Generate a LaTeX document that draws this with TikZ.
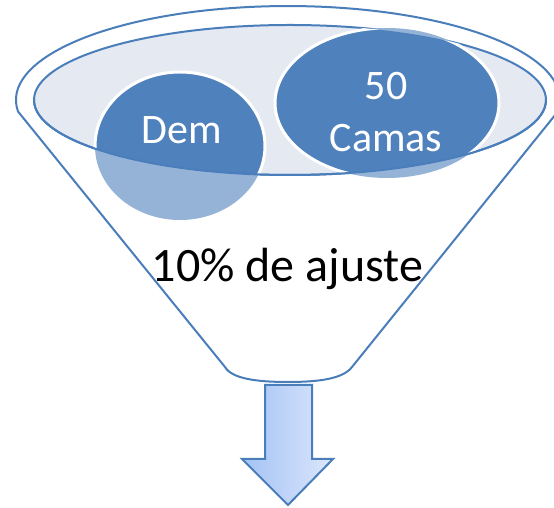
\documentclass[tikz,border=0pt]{standalone}
\usepackage{fontspec}
\setmainfont{Carlito}
\definecolor{fblue}{RGB}{74,126,187}
\definecolor{cdark}{RGB}{79,129,189}
\definecolor{clight}{RGB}{149,179,215}
\definecolor{inner}{RGB}{228,233,242}
\definecolor{arrL}{RGB}{163,194,245}
\definecolor{arrR}{RGB}{220,231,251}
\begin{document}
\begin{tikzpicture}[x=1pt,y=1pt,
  outline/.style={draw=fblue,line width=2pt},
  bubble/.style={draw=white,line width=3pt},
  bubtext/.style={text=white,font=\fontsize{42}{50}\selectfont,inner sep=0pt}]
\useasboundingbox (0,0) rectangle (554,508);
% funnel
\draw[outline,fill=white,line join=round]
  (18,396.5) arc[start angle=187,end angle=-7,x radius=272,y radius=94]
  -- (352,141) .. controls (343,129) and (318,126) .. (288,126)
  .. controls (258,126) and (232,129) .. (225,141) -- cycle;
% inner ellipse
\draw[outline,fill=inner] (290,408) ellipse[x radius=256,y radius=75];
% Dem bubble
\fill[clight] (180,362) ellipse[x radius=85,y radius=74];
\begin{scope}
  \clip (290,408) ellipse[x radius=256,y radius=75];
  \draw[bubble,fill=cdark] (180,362) ellipse[x radius=85,y radius=74];
\end{scope}
% Camas bubble
\fill[clight] (387,405) ellipse[x radius=112,y radius=75];
\begin{scope}
  \clip (290,408) ellipse[x radius=256,y radius=75];
  \draw[bubble,fill=cdark] (387,405) ellipse[x radius=112,y radius=75];
\end{scope}
% lower rim of inner ellipse over bubbles
\draw[outline] (34,408) arc[start angle=180,end angle=360,x radius=256,y radius=75];
% texts
\node[bubtext,anchor=base] (dem) at (181.5,364) {Dem};
\node[bubtext,anchor=base] (fifty) at (386,408) {50};
\node[bubtext,anchor=base] (camas) at (386,356) {Camas};
\node[inner sep=0pt,anchor=base,font=\fontsize{48}{58}\selectfont] (adj) at (287.5,226) {10\% de ajuste};
% arrow
\draw[draw=fblue,line width=2pt,line join=miter,left color=arrL,right color=arrR]
  (265,123) -- (312,123) -- (312,49) -- (333,49) -- (288,3) -- (242,49) -- (265,49) -- cycle;
\end{tikzpicture}
\end{document}
